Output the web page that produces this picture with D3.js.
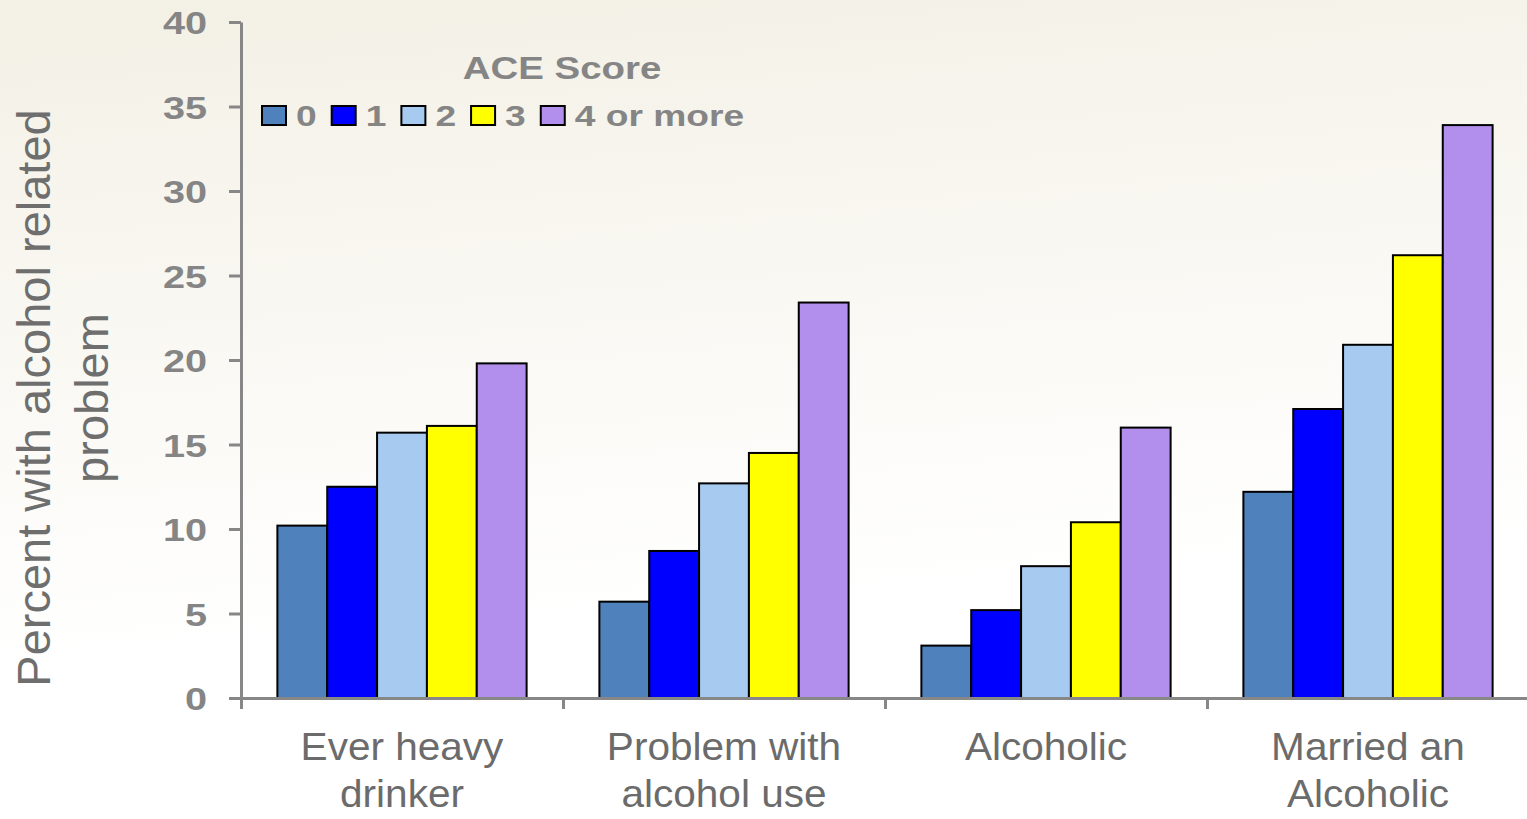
<!DOCTYPE html>
<meta charset="utf-8">
<style>
    body {
        margin: 0;
        padding: 0;
    }
    text {
        font-family: "Liberation Sans", Arial, sans-serif;
    }
    .axis path, .axis line {
        stroke: #878787;
        stroke-width: 3;
    }
    .tick-label {
        font-weight: 700;
        fill: #858585;
    }
</style>
<body>
<script src="https://d3js.org/d3.v7.min.js"></script>
<script>
    // chart data
    var categories = ["Ever heavy drinker", "Problem with alcohol use", "Alcoholic", "Married an Alcoholic"];
    var categoryLines = [["Ever heavy", "drinker"], ["Problem with", "alcohol use"], ["Alcoholic"], ["Married an", "Alcoholic"]];
    var aceScores = ["0", "1", "2", "3", "4 or more"];
    var score0 = [10.2, 5.7, 3.1, 12.2];
    var score1 = [12.5, 8.7, 5.2, 17.1];
    var score2 = [15.7, 12.7, 7.8, 20.9];
    var score3 = [16.1, 14.5, 10.4, 26.2];
    var score4 = [19.8, 23.4, 16.0, 33.9];
    var yTicks = [0, 5, 10, 15, 20, 25, 30, 35, 40];

    var series = [score0, score1, score2, score3, score4];
    var colors = ["#4f81bd", "#0000ff", "#a6caf0", "#ffff00", "#b28fec"];

    var width = 1527, height = 819;
    var margin = {top: 22, right: -2, bottom: 121, left: 241};
    var sx = 1.24; // the source text is drawn a bit wide

    var svg = d3.select("body")
        .append("svg")
        .attr("width", width)
        .attr("height", height);

    // background wash
    var grad = svg.append("defs").append("linearGradient")
        .attr("id", "bg")
        .attr("x1", 0).attr("y1", 0).attr("x2", 0.15).attr("y2", 1);
    grad.append("stop").attr("offset", "0%").attr("stop-color", "#f3f0e5");
    grad.append("stop").attr("offset", "80%").attr("stop-color", "#ffffff");
    svg.append("rect")
        .attr("width", width)
        .attr("height", height)
        .attr("fill", "url(#bg)");

    var x0 = d3.scaleBand()
        .domain(categories)
        .range([margin.left, width - margin.right])
        .padding(0);

    var x1 = d3.scaleBand()
        .domain(d3.range(aceScores.length))
        .range([0, x0.bandwidth()])
        .paddingInner(0)
        .paddingOuter(0.73);

    var y = d3.scaleLinear()
        .domain([0, 40])
        .range([height - margin.bottom, margin.top]);

    // bars
    var groups = svg.append("g")
        .selectAll("g")
        .data(categories)
        .enter().append("g")
        .attr("transform", function(d) { return "translate(" + x0(d) + ",0)"; });

    groups.selectAll("rect")
        .data(function(d, i) { return series.map(function(s, k) { return {k: k, v: s[i]}; }); })
        .enter().append("rect")
        .attr("x", function(d) { return x1(d.k); })
        .attr("width", x1.bandwidth())
        .attr("y", function(d) { return y(d.v); })
        .attr("height", function(d) { return y(0) - y(d.v); })
        .attr("fill", function(d) { return colors[d.k]; })
        .attr("stroke", "#000")
        .attr("stroke-width", 2);

    // x axis with ticks on the category boundaries
    var xb = d3.scaleLinear()
        .domain([0, categories.length])
        .range(x0.range());

    svg.append("g")
        .attr("class", "axis")
        .attr("transform", "translate(0," + y(0) + ")")
        .call(d3.axisBottom(xb).ticks(categories.length).tickFormat("").tickSize(11).tickSizeOuter(0));

    // y axis
    var yAxis = svg.append("g")
        .attr("class", "axis")
        .attr("transform", "translate(" + margin.left + ",0)")
        .call(d3.axisLeft(y).tickValues(yTicks).tickSize(12).tickSizeOuter(0));

    yAxis.selectAll("text")
        .attr("class", "tick-label")
        .attr("x", -34 / sx)
        .attr("dy", "0.36em")
        .attr("transform", "scale(" + sx + ",1)")
        .style("font-size", "32px")
        .style("font-family", "'Liberation Sans', Arial, sans-serif");

    // category labels
    var catLabels = svg.append("g")
        .selectAll("g")
        .data(categories)
        .enter().append("g")
        .attr("transform", function(d) {
            return "translate(" + (x0(d) + x0.bandwidth() / 2) + ",760) scale(1.04,1)";
        });

    catLabels.append("text")
        .attr("text-anchor", "middle")
        .style("font-size", "39px")
        .attr("fill", "#6b6b6b")
        .selectAll("tspan")
        .data(function(d, i) { return categoryLines[i]; })
        .enter().append("tspan")
        .attr("x", 0)
        .attr("y", function(d, i) { return i * 47; })
        .text(function(d) { return d; });

    // y axis title
    var yTitle = svg.append("text")
        .attr("transform", "translate(50,398) rotate(-90)")
        .attr("text-anchor", "middle")
        .style("font-size", "47px")
        .attr("fill", "#6e6e6e");
    yTitle.append("tspan").attr("x", 0).attr("y", 0).text("Percent with alcohol related");
    yTitle.append("tspan").attr("x", 0).attr("y", 58).text("problem");

    // legend
    svg.append("g")
        .attr("transform", "translate(562,79) scale(" + sx + ",1)")
        .append("text")
        .attr("class", "tick-label")
        .attr("text-anchor", "middle")
        .style("font-size", "31px")
        .text("ACE Score");

    var lx = 262;
    aceScores.forEach(function(label, k) {
        svg.append("rect")
            .attr("x", lx)
            .attr("y", 106)
            .attr("width", 24)
            .attr("height", 19)
            .attr("fill", colors[k])
            .attr("stroke", "#000")
            .attr("stroke-width", 2);
        var t = svg.append("g")
            .attr("transform", "translate(" + (lx + 34) + ",126) scale(" + sx + ",1)")
            .append("text")
            .attr("class", "tick-label")
            .style("font-size", "30px")
            .text(label);
        lx += 34 + t.node().getComputedTextLength() * sx + 15;
    });
</script>
</body>
</html>
